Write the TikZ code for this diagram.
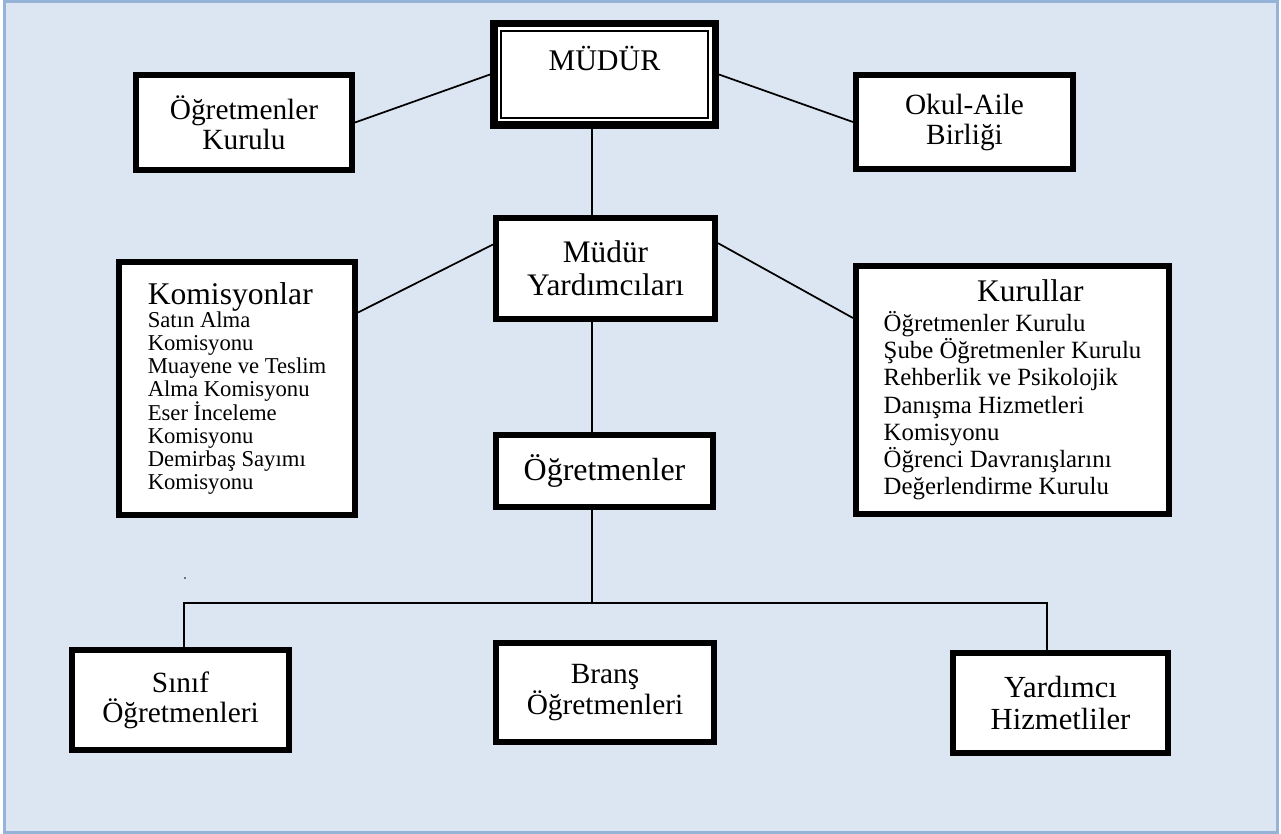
\documentclass[tikz,border=0pt]{standalone}
\usepackage{fontspec}
\setmainfont{Liberation Serif}
\definecolor{pageblue}{RGB}{220,230,242}
\definecolor{frameblue}{RGB}{149,179,215}
\tikzset{every picture/.style={line width=0.75pt}}
\tikzset{
  orgbox/.style={draw, fill=white, line width=4.8pt, inner sep=0pt, align=center,
    font=\fontsize{22}{22.5}\selectfont},
  listbox/.style={orgbox, align=left, font=\fontsize{17}{17.25}\selectfont},
  link/.style={line width=1.3pt}
}

\begin{document}
\begin{tikzpicture}[x=0.75pt,y=0.75pt,yscale=-1,xscale=1]
\useasboundingbox (0,0) rectangle (1281,834);

%Shape: Rectangle (page)
\draw [frameblue, fill=pageblue, line width=2.4pt] (4.7,1) rectangle (1277.5,832.5);

%Shape: Boxes
\node [orgbox, line width=5.6pt, inner sep=0pt, minimum width=166.1pt,
       text height=34.7pt, text depth=41.4pt, font=\fontsize{22.5}{27}\selectfont]
       (mudur) at (604.5,74.5) {MÜDÜR};
\draw [line width=1.5pt] ([shift={(10.8,10.8)}]mudur.north west) rectangle ([shift={(-10.8,-10.8)}]mudur.south east);

\node [orgbox, minimum width=161.7pt, minimum height=71pt] (ogkurul) at (244,122.5) {Öğretmenler\\Kurulu};
\node [orgbox, minimum width=162.5pt, minimum height=70.2pt] (okul) at (964.5,122) {Okul-Aile\\Birliği};
\node [orgbox, minimum width=164pt, minimum height=75.5pt, font=\fontsize{23.5}{25}\selectfont]
       (myrd) at (605.5,268.5) {Müdür\\Yardımcıları};
\node [listbox, minimum width=176.7pt, minimum height=189.5pt] (kom) at (237,388.5)
  {{\fontsize{23.7}{24}\selectfont Komisyonlar}\\
   Satın Alma\\
   Komisyonu\\
   Muayene ve Teslim\\
   Alma Komisyonu\\
   Eser İnceleme\\
   Komisyonu\\
   Demirbaş Sayımı\\
   Komisyonu};
\node [listbox, minimum width=234.5pt, minimum height=185.7pt, font=\fontsize{18.6}{20.4}\selectfont]
       (kur) at (1012.5,390)
  {\hspace*{70pt}{\fontsize{23.6}{24}\selectfont Kurullar}\\[2pt]
   Öğretmenler Kurulu\\
   Şube Öğretmenler Kurulu\\
   Rehberlik ve Psikolojik\\
   Danışma Hizmetleri\\
   Komisyonu\\
   Öğrenci Davranışlarını\\
   Değerlendirme Kurulu};
\node [orgbox, minimum width=162.5pt, minimum height=53.7pt, font=\fontsize{24}{26}\selectfont]
       (ogr) at (604.5,471) {Öğretmenler};
\node [orgbox, minimum width=162.5pt, minimum height=74.7pt] (sinif) at (180.5,700) {Sınıf\\Öğretmenleri};
\node [orgbox, minimum width=163.2pt, minimum height=74pt] (brans) at (605,692.5) {Branş\\Öğretmenleri};
\node [orgbox, minimum width=161pt, minimum height=74.7pt, font=\fontsize{23}{23.5}\selectfont]
       (yard) at (1060.5,703) {Yardımcı\\Hizmetliler};

%Coordinates of the bus line
\coordinate (busL) at (184,603);
\coordinate (busM) at (592,603);
\coordinate (busR) at (1047,603);

%Straight Lines
\draw [link] (mudur.west) -- (ogkurul.east);
\draw [link] (mudur.east) -- (okul.west);
\draw [link] (mudur.south -| busM) -- (myrd.north -| busM);
\draw [link] ([yshift=-18pt]myrd.west) -- ([yshift=-57pt]kom.east);
\draw [link] ([yshift=-19pt]myrd.east) -- ([yshift=-54pt]kur.west);
\draw [link] (myrd.south -| busM) -- (ogr.north -| busM);
\draw [link] (ogr.south -| busM) -- (busM);
\draw [link] (sinif.north -| busL) -- (busL) -- (busR) -- (yard.north -| busR);

%Stray dot
\fill (185,578) circle (0.8);

\end{tikzpicture}
\end{document}
